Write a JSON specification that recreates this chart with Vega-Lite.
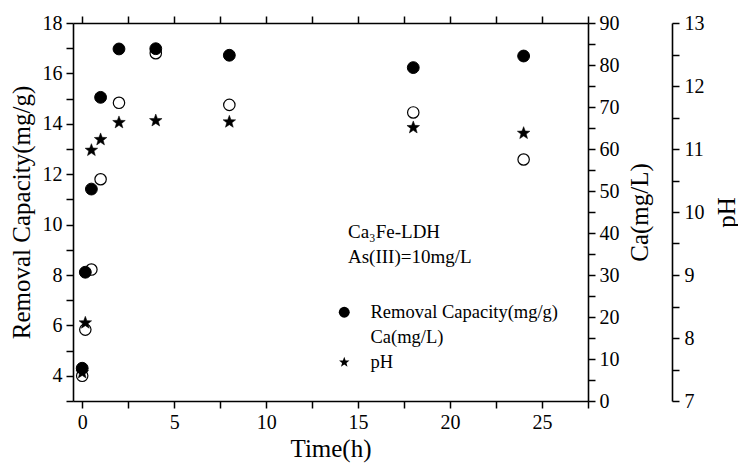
{
  "$schema": "https://vega.github.io/schema/vega-lite/v6.json",
  "padding": {"left": 73, "top": 23, "right": 665, "bottom": 447},
  "autosize": {"type": "none"},
  "background": "white",
  "bounds": "flush",
  "spacing": 83,
  "data": {
    "values": [
      {"t": 0, "series": "Removal Capacity(mg/g)", "v": 4.3},
      {"t": 0.17, "series": "Removal Capacity(mg/g)", "v": 8.11},
      {"t": 0.5, "series": "Removal Capacity(mg/g)", "v": 11.41},
      {"t": 1, "series": "Removal Capacity(mg/g)", "v": 15.05},
      {"t": 2, "series": "Removal Capacity(mg/g)", "v": 16.97},
      {"t": 4, "series": "Removal Capacity(mg/g)", "v": 16.98},
      {"t": 8, "series": "Removal Capacity(mg/g)", "v": 16.72},
      {"t": 18, "series": "Removal Capacity(mg/g)", "v": 16.23},
      {"t": 24, "series": "Removal Capacity(mg/g)", "v": 16.69},
      {"t": 0, "series": "Ca(mg/L)", "v": 6.0},
      {"t": 0.17, "series": "Ca(mg/L)", "v": 17.0},
      {"t": 0.5, "series": "Ca(mg/L)", "v": 31.3},
      {"t": 1, "series": "Ca(mg/L)", "v": 52.8},
      {"t": 2, "series": "Ca(mg/L)", "v": 71.0},
      {"t": 4, "series": "Ca(mg/L)", "v": 82.8},
      {"t": 8, "series": "Ca(mg/L)", "v": 70.5},
      {"t": 18, "series": "Ca(mg/L)", "v": 68.7},
      {"t": 24, "series": "Ca(mg/L)", "v": 57.5},
      {"t": 0, "series": "pH", "v": 7.45},
      {"t": 0.17, "series": "pH", "v": 8.24},
      {"t": 0.5, "series": "pH", "v": 10.98},
      {"t": 1, "series": "pH", "v": 11.15},
      {"t": 2, "series": "pH", "v": 11.42},
      {"t": 4, "series": "pH", "v": 11.45},
      {"t": 8, "series": "pH", "v": 11.43},
      {"t": 18, "series": "pH", "v": 11.34},
      {"t": 24, "series": "pH", "v": 11.25}
    ]
  },
  "hconcat": [
    {
      "width": 515,
      "height": 378,
      "view": {"stroke": null},
      "layer": [
        {
          "transform": [{"filter": "datum.series == 'Ca(mg/L)'"}],
          "mark": {"type": "point", "filled": true, "stroke": "black", "strokeWidth": 1.2, "size": 130, "opacity": 1},
          "encoding": {
            "x": {"field": "t", "type": "quantitative", "scale": {"domain": [-0.5, 27.5], "nice": false, "zero": false},
              "axis": {"orient": "bottom", "grid": false, "title": "Time(h)", "values": [0, 2.5, 5, 7.5, 10, 12.5, 15, 17.5, 20, 22.5, 25, 27.5],
                "labelExpr": "datum.value % 5 == 0 ? format(datum.value, 'd') : ''",
                "labelFont": "Liberation Serif", "labelFontSize": 20, "labelColor": "black", "labelPadding": 4,
                "titleFont": "Liberation Serif", "titleFontSize": 25, "titleFontWeight": "normal", "titleColor": "black", "titlePadding": 4,
                "domainColor": "black", "domainWidth": 1.6, "tickColor": "black", "tickWidth": 1.5, "tickSize": 7,
                "encode": {"ticks": {"update": {"y2": {"signal": "datum.value % 5 == 0 ? 7 : 4"}}}}}},
            "y": {"field": "v", "type": "quantitative", "scale": {"domain": [0, 90], "nice": false},
              "axis": {"orient": "right", "grid": false, "title": "Ca(mg/L)", "titleAngle": -90, "titleBaseline": "top",
                "values": [0, 5, 10, 15, 20, 25, 30, 35, 40, 45, 50, 55, 60, 65, 70, 75, 80, 85, 90],
                "labelExpr": "datum.value % 10 == 0 ? format(datum.value, 'd') : ''",
                "labelFont": "Liberation Serif", "labelFontSize": 20, "labelColor": "black", "labelPadding": 4,
                "titleFont": "Liberation Serif", "titleFontSize": 25, "titleFontWeight": "normal", "titleColor": "black", "titlePadding": 8,
                "domainColor": "black", "domainWidth": 1.6, "tickColor": "black", "tickWidth": 1.5, "tickSize": 7,
                "encode": {"ticks": {"update": {"x2": {"signal": "datum.value % 10 == 0 ? 7 : 4"}}}}}},
            "shape": {"field": "series", "type": "nominal",
              "scale": {"domain": ["Removal Capacity(mg/g)", "Ca(mg/L)", "pH"], "range": ["circle", "circle", "M0,-1L0.247,-0.34L0.951,-0.309L0.399,0.13L0.588,0.809L0,0.42L-0.588,0.809L-0.399,0.13L-0.951,-0.309L-0.247,-0.34Z"]},
              "legend": {"orient": "none", "legendX": 262, "legendY": 280, "title": null, "labelOffset": 17, "rowPadding": 6, "symbolSize": 120,
                "labelLimit": 400, "labelFont": "Liberation Serif", "labelFontSize": 18.5, "labelColor": "black",
                "symbolStrokeColor": "black", "symbolStrokeWidth": 1.2}},
            "fill": {"field": "series", "type": "nominal",
              "scale": {"domain": ["Removal Capacity(mg/g)", "Ca(mg/L)", "pH"], "range": ["black", "white", "black"]},
              "legend": {"orient": "none", "legendX": 262, "legendY": 280, "title": null, "labelOffset": 17, "rowPadding": 6, "symbolSize": 120,
                "labelLimit": 400, "labelFont": "Liberation Serif", "labelFontSize": 18.5, "labelColor": "black",
                "symbolStrokeColor": "black", "symbolStrokeWidth": 1.2}}
          }
        },
        {
          "transform": [{"filter": "datum.series == 'pH'"}],
          "mark": {"type": "point", "filled": true, "stroke": "black", "strokeWidth": 0.5, "size": 175, "opacity": 1},
          "encoding": {
            "x": {"field": "t", "type": "quantitative", "scale": {"domain": [-0.5, 27.5], "nice": false, "zero": false}, "axis": null},
            "y": {"field": "v", "type": "quantitative", "scale": {"domain": [7, 13], "nice": false, "zero": false}, "axis": null},
            "shape": {"field": "series", "type": "nominal"},
            "fill": {"field": "series", "type": "nominal"}
          }
        },
        {
          "transform": [{"filter": "datum.series == 'Removal Capacity(mg/g)'"}],
          "mark": {"type": "point", "filled": true, "stroke": "black", "strokeWidth": 1, "size": 140, "opacity": 1},
          "encoding": {
            "x": {"field": "t", "type": "quantitative", "scale": {"domain": [-0.5, 27.5], "nice": false, "zero": false},
              "axis": {"orient": "top", "grid": false, "title": null, "labels": false, "values": [0, 2.5, 5, 7.5, 10, 12.5, 15, 17.5, 20, 22.5, 25, 27.5],
                "domainColor": "black", "domainWidth": 1.6, "tickColor": "black", "tickWidth": 1.5, "tickSize": 7,
                "encode": {"ticks": {"update": {"y2": {"signal": "datum.value % 5 == 0 ? -7 : -4"}}}}}},
            "y": {"field": "v", "type": "quantitative", "scale": {"domain": [3, 18], "nice": false, "zero": false},
              "axis": {"orient": "left", "grid": false, "title": "Removal Capacity(mg/g)",
                "values": [3, 4, 5, 6, 7, 8, 9, 10, 11, 12, 13, 14, 15, 16, 17, 18],
                "labelExpr": "datum.value % 2 == 0 ? format(datum.value, 'd') : ''",
                "labelFont": "Liberation Serif", "labelFontSize": 20, "labelColor": "black", "labelPadding": 4,
                "titleFont": "Liberation Serif", "titleFontSize": 25, "titleFontWeight": "normal", "titleColor": "black", "titlePadding": 8,
                "domainColor": "black", "domainWidth": 1.6, "tickColor": "black", "tickWidth": 1.5, "tickSize": 7,
                "encode": {"ticks": {"update": {"x2": {"signal": "datum.value % 2 == 0 ? -7 : -4"}}}}}},
            "shape": {"field": "series", "type": "nominal"},
            "fill": {"field": "series", "type": "nominal"}
          }
        },
        {
          "data": {"values": [
            {"t": 14.45, "v": 9.47, "label": "Ca₃Fe-LDH"},
            {"t": 14.45, "v": 8.48, "label": "As(III)=10mg/L"}
          ]},
          "mark": {"type": "text", "align": "left", "baseline": "alphabetic", "fontSize": 19, "font": "Liberation Serif", "color": "black"},
          "encoding": {
            "x": {"field": "t", "type": "quantitative", "scale": {"domain": [-0.5, 27.5], "nice": false, "zero": false}, "axis": null},
            "y": {"field": "v", "type": "quantitative", "scale": {"domain": [3, 18], "nice": false, "zero": false}, "axis": null},
            "text": {"field": "label"}
          }
        }
      ],
      "resolve": {"scale": {"x": "independent", "y": "independent"}, "axis": {"x": "independent", "y": "independent"}}
    },
    {
      "width": 1,
      "height": 378,
      "view": {"stroke": null},
      "transform": [{"filter": "datum.series == 'pH'"}],
      "mark": {"type": "point", "opacity": 0},
      "encoding": {
        "y": {"field": "v", "type": "quantitative", "scale": {"domain": [7, 13], "nice": false, "zero": false},
          "axis": {"orient": "right", "grid": false, "title": "pH", "titleAngle": -90, "titleBaseline": "top",
            "values": [7, 7.5, 8, 8.5, 9, 9.5, 10, 10.5, 11, 11.5, 12, 12.5, 13],
            "labelExpr": "datum.value % 1 == 0 ? format(datum.value, 'd') : ''",
            "labelFont": "Liberation Serif", "labelFontSize": 20, "labelColor": "black", "labelPadding": 5,
            "titleFont": "Liberation Serif", "titleFontSize": 25, "titleFontWeight": "normal", "titleColor": "black", "titlePadding": 10,
            "domainColor": "black", "domainWidth": 1.6, "tickColor": "black", "tickWidth": 1.5, "tickSize": 7,
            "encode": {"ticks": {"update": {"x2": {"signal": "datum.value % 1 == 0 ? 7 : 4"}}}}}}
      }
    }
  ]
}
